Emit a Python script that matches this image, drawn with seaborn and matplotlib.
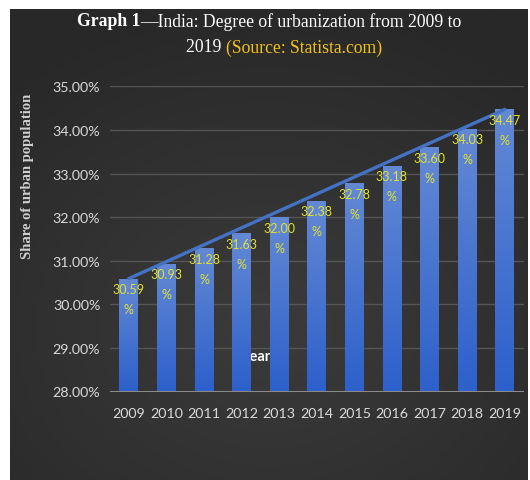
import numpy as np
import pandas as pd
import matplotlib
matplotlib.use("Agg")
import matplotlib.pyplot as plt
from matplotlib.colors import LinearSegmentedColormap
import seaborn as sns

# Share of urban population in India, 2009-2019 (percent)
years = ["2009", "2010", "2011", "2012", "2013", "2014",
         "2015", "2016", "2017", "2018", "2019"]
urban_share = [30.59, 30.93, 31.28, 31.63, 32.00, 32.38,
               32.78, 33.18, 33.60, 34.03, 34.47]
y_ticks = [28, 29, 30, 31, 32, 33, 34, 35]

df = pd.DataFrame({"year": years, "share": urban_share})

sns.set_theme(style="dark")
plt.rcParams["font.family"] = ["Lato", "DejaVu Sans"]

W, H = 530, 481
fig = plt.figure(figsize=(W / 100, H / 100), dpi=100, facecolor="white")

# dark panel with a soft radial glow
bg = fig.add_axes([10 / W, 0, 518 / W, 471 / H], zorder=-10)
gx, gy = np.meshgrid(np.linspace(-1, 1, 300), np.linspace(-1, 1, 300))
r = np.sqrt((gx * 0.9) ** 2 + ((gy + 0.35) * 1.0) ** 2)
glow = np.clip(1 - r / 1.4, 0, 1)
bg_cmap = LinearSegmentedColormap.from_list("panel", ["#282828", "#3b3b3b"])
bg.imshow(glow, cmap=bg_cmap, aspect="auto", extent=[0, 1, 0, 1], origin="lower")
bg.set_axis_off()

ax = fig.add_axes([110 / W, 1 - 392.5 / H, 413.5 / W, 305.2 / H])
ax.set_facecolor("none")

sns.barplot(data=df, x="year", y="share", ax=ax, width=0.5,
            color="#3a68cc", saturation=1, linewidth=0, edgecolor="none")
for patch in ax.patches:
    patch.set_zorder(2)

ax.set_ylim(28, 35)
ax.set_xlim(-0.5, len(years) - 0.5)

# vertical gradient fill in each bar
bar_cmap = LinearSegmentedColormap.from_list("bar", ["#2d60cb", "#6489d4"])
grad = np.linspace(0, 1, 256).reshape(-1, 1)
for patch, v in zip(ax.patches, urban_share):
    x0 = patch.get_x()
    w = patch.get_width()
    im = ax.imshow(grad, cmap=bar_cmap, aspect="auto", origin="lower",
                   extent=[x0, x0 + w, 28, v], zorder=2.1)
    im.set_clip_path(patch)
ax.set_xlim(-0.5, len(years) - 0.5)
ax.set_ylim(28, 35)

# gridlines and baseline
for t in y_ticks[1:]:
    ax.axhline(t, color="#555555", lw=1.0, zorder=1)
ax.axhline(28, color="#8a8a8a", lw=2.2, zorder=3)

# trend line across the bar tops
sns.lineplot(x=[0, len(years) - 1], y=[urban_share[0], urban_share[-1]],
             ax=ax, color="#4472c4", lw=2.4, zorder=4)

# axis title partly hidden behind the bars
ax.text(2.97, 28.81, "Year", color="white", fontsize=10.5, fontweight="bold",
        ha="left", va="center", zorder=1.5)

# value labels
for i, v in enumerate(urban_share):
    ax.annotate(f"{v:.2f}", (i, v), xytext=(0, -7.5), textcoords="offset points",
                ha="center", va="center", color="#e2e22e", fontsize=9, zorder=5)
    ax.annotate("%", (i, v), xytext=(0, -22), textcoords="offset points",
                ha="center", va="center", color="#e2e22e", fontsize=9, zorder=5)

ax.set_yticks(y_ticks)
ax.set_yticklabels([f"{t:.2f}%" for t in y_ticks])
ax.tick_params(axis="y", colors="#d9d9d9", labelsize=10.3, length=0, pad=7)
ax.tick_params(axis="x", colors="#d9d9d9", labelsize=10.3, length=0, pad=11)
ax.set_xlabel("")
ax.set_ylabel("")
ax.grid(False)
for s in ax.spines.values():
    s.set_visible(False)

fig.text(28 / W, 1 - 176 / H, "Share of urban population", rotation=90,
         family="Liberation Serif", fontweight="bold", fontsize=10.5,
         color="#d0d0d0", ha="center", va="center")

# title built from differently styled pieces
fig.canvas.draw()
renderer = fig.canvas.get_renderer()


def put_pieces(pieces, x_px, y_px):
    x = x_px
    for txt, weight, col in pieces:
        t = fig.text(x / W, 1 - y_px / H, txt, family="Liberation Serif",
                     fontweight=weight, fontsize=12.7, color=col,
                     ha="left", va="center")
        bb = t.get_window_extent(renderer=renderer)
        x += bb.width


put_pieces([("Graph 1", "bold", "white"),
            ("\u2014India: Degree of urbanization from 2009 to", "normal", "white")],
           77, 22)
put_pieces([("2019 ", "normal", "white"),
            ("(Source: Statista.com)", "normal", "#f2c21b")],
           186, 48)

fig.savefig("out.png", dpi=100, facecolor="white")
